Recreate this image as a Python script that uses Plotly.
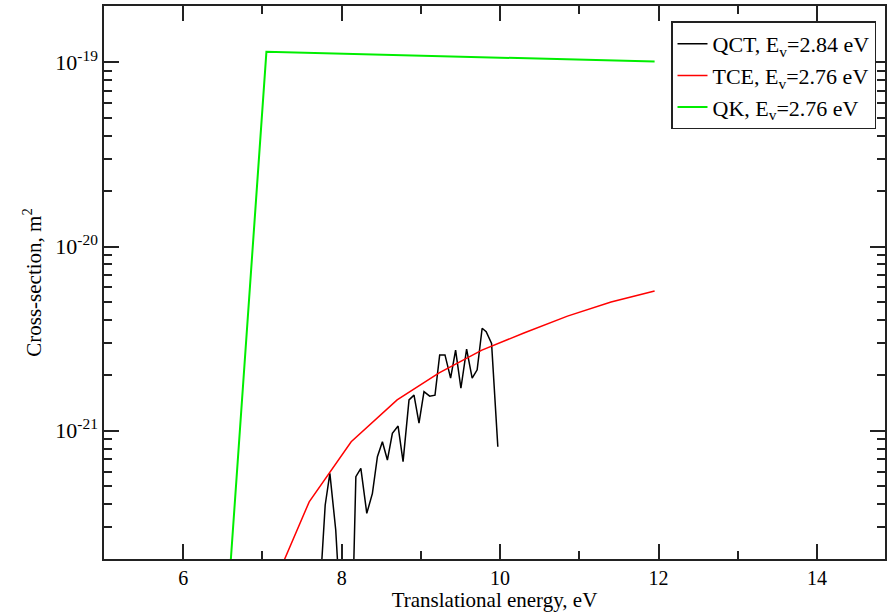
import plotly.graph_objects as go

# ---- data ----
qct_x = [7.729, 7.792, 7.851, 7.925, 7.987, 8.057, 8.12, 8.179, 8.242, 8.317, 8.388, 8.451,
         8.514, 8.577, 8.640, 8.712, 8.775, 8.850, 8.913, 8.976, 9.039, 9.111, 9.178,
         9.237, 9.304, 9.375, 9.438, 9.505, 9.577, 9.647, 9.710, 9.773, 9.824, 9.892, 9.971]
qct_y = [1.42e-22, 3.95e-22, 5.87e-22, 2.89e-22, 1.0e-22, 5.0e-23, 5.0e-23, 5.63e-22, 6.25e-22,
         3.56e-22, 4.57e-22, 7.22e-22, 8.71e-22, 6.93e-22, 9.68e-22, 1.06e-21, 6.79e-22,
         1.47e-21, 1.56e-21, 1.10e-21, 1.63e-21, 1.54e-21, 1.56e-21, 2.58e-21, 2.58e-21,
         1.93e-21, 2.74e-21, 1.70e-21, 2.77e-21, 1.93e-21, 2.14e-21, 3.60e-21, 3.45e-21,
         2.98e-21, 8.19e-22]

tce_x = [7.05, 7.59, 8.12, 8.70, 9.23, 9.77, 10.30, 10.85, 11.40, 11.95]
tce_y = [1.18e-22, 4.11e-22, 8.71e-22, 1.47e-21, 2.06e-21, 2.74e-21, 3.39e-21, 4.19e-21,
         5.0e-21, 5.74e-21]

qk_x = [6.5, 7.05, 11.95]
qk_y = [4.8e-23, 1.14e-19, 1.01e-19]

series_names = ["QCT, E<sub>v</sub>=2.84 eV", "TCE, E<sub>v</sub>=2.76 eV", "QK, E<sub>v</sub>=2.76 eV"]
y_tickvals = [1e-21, 1e-20, 1e-19]
y_ticktext = ["10<sup>-21</sup>", "10<sup>-20</sup>", "10<sup>-19</sup>"]

FONT = "Liberation Serif, Times New Roman, serif"

fig = go.Figure()
fig.add_trace(go.Scatter(x=qct_x, y=qct_y, mode="lines", name=series_names[0], legendgroup="a",
                         line=dict(color="black", width=1.5)))
fig.add_trace(go.Scatter(x=tce_x, y=tce_y, mode="lines", name=series_names[1], legendgroup="b",
                         line=dict(color="#ff0000", width=1.5)))
fig.add_trace(go.Scatter(x=qk_x, y=qk_y, mode="lines", name=series_names[2], legendgroup="c",
                         line=dict(color="#00ee00", width=2)))

axis_common = dict(showline=True, linecolor="#222", linewidth=1.5, mirror="ticks",
                   ticks="inside", tickcolor="#222", tickwidth=1.5, ticklen=15,
                   showgrid=False, zeroline=False)

fig.update_xaxes(range=[5, 14.858], tick0=0, dtick=2,
                 minor=dict(dtick=1, ticks="inside", ticklen=8, tickcolor="#222", tickwidth=1.5),
                 tickfont=dict(family=FONT, size=20, color="black"),
                 title=dict(text="Translational energy, eV", font=dict(family=FONT, size=21, color="black"),
                            standoff=2),
                 **axis_common)
fig.update_yaxes(type="log", range=[-21.6965, -18.6944],
                 tickvals=y_tickvals, ticktext=y_ticktext,
                 minor=dict(dtick="D1", ticks="inside", ticklen=8, tickcolor="#222", tickwidth=1.5),
                 tickfont=dict(family=FONT, size=22, color="black"),
                 title=dict(text="Cross-section, m<sup>2</sup>", font=dict(family=FONT, size=21, color="black"),
                            standoff=8),
                 **axis_common)

fig.update_layout(
    width=887, height=612,
    margin=dict(l=104, r=0, t=6, b=53),
    plot_bgcolor="white", paper_bgcolor="white",
    font=dict(family=FONT, color="black"),
    legend=dict(x=0.726, y=0.972, xanchor="left", yanchor="top",
                bordercolor="#222", borderwidth=1.5, bgcolor="white",
                tracegroupgap=0,
                font=dict(family=FONT, size=22, color="black")),
)

fig.write_html("out.html", config={"displayModeBar": False},
               post_script="document.body.style.margin='0px';")
